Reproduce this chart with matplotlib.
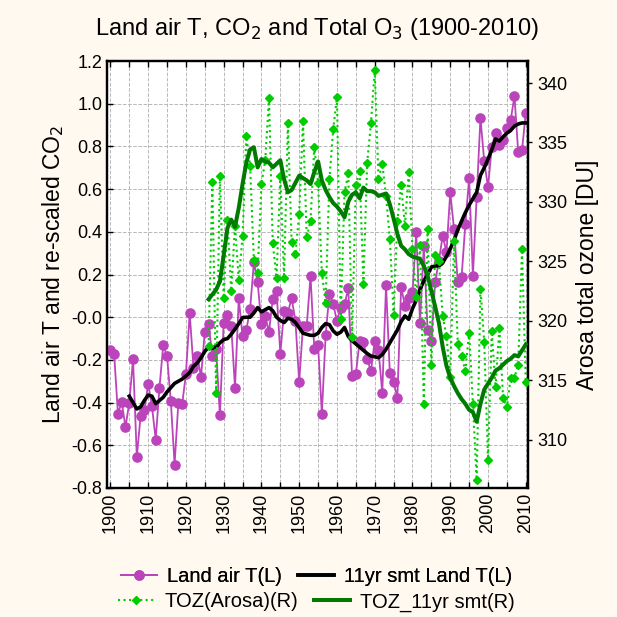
import matplotlib
matplotlib.use("Agg")
import matplotlib.pyplot as plt
from matplotlib.lines import Line2D
import numpy as np

# ---- data ----
t_years = np.arange(1900, 2011)
land_t = [
    -0.155, -0.174, -0.452, -0.397, -0.515, -0.40, -0.197, -0.654, -0.463, -0.437,   # 1900s
    -0.311, -0.416, -0.573, -0.330, -0.130, -0.182, -0.393, -0.690, -0.400, -0.408,  # 1910s
    -0.268, 0.019, -0.236, -0.18, -0.279, -0.069, -0.033, -0.18, -0.15, -0.46,       # 1920s
    -0.025, 0.009, -0.04, -0.33, 0.088, -0.09, -0.06, 0.038, 0.257, 0.163,           # 1930s
    -0.033, 0.006, -0.069, 0.085, 0.124, -0.171, 0.03, 0.022, 0.089, -0.017,         # 1940s
    -0.304, -0.04, -0.04, 0.194, -0.15, -0.13, -0.452, -0.085, 0.11, 0.06,           # 1950s
    -0.017, 0.045, 0.061, 0.135, -0.275, -0.268, -0.111, -0.116, -0.197, -0.252,     # 1960s
    -0.111, -0.153, -0.354, 0.15, -0.26, -0.304, -0.377, 0.142, 0.053, 0.088,        # 1970s
    0.116, 0.397, -0.025, 0.335, -0.06, -0.111, 0.163, 0.264, 0.382, 0.304,          # 1980s
    0.585, 0.413, 0.163, 0.186, 0.437, 0.651, 0.194, 0.562, 0.933, 0.731,            # 1990s
    0.609, 0.797, 0.864, 0.808, 0.828, 0.887, 0.922, 1.036, 0.773, 0.781,            # 2000s
    0.956,
]

smt_years = np.arange(1905, 2011)
land_t_smt = [
    -0.37, -0.40, -0.43, -0.42, -0.39,
    -0.365, -0.37, -0.405, -0.39, -0.375, -0.35, -0.33, -0.31, -0.30, -0.29,
    -0.275, -0.26, -0.23, -0.215, -0.19, -0.16, -0.14, -0.145, -0.14, -0.12,
    -0.105, -0.10, -0.08, -0.056, -0.03, -0.002, 0.0, 0.0, 0.02, 0.045,
    0.025, 0.035, 0.045, 0.03, 0.0, -0.015, -0.025, -0.005, -0.01, -0.025,
    -0.05, -0.075, -0.08, -0.085, -0.085, -0.075, -0.048, -0.03, -0.035, -0.064,
    -0.08, -0.07, -0.048, -0.09, -0.11, -0.125, -0.14, -0.155, -0.17, -0.182,
    -0.185, -0.19, -0.175, -0.15, -0.12, -0.09, -0.06, -0.02, 0.006, -0.01,
    0.04, 0.08, 0.13, 0.17, 0.20, 0.235, 0.24, 0.24, 0.255, 0.285,
    0.32, 0.36, 0.41, 0.45, 0.49, 0.525, 0.555, 0.585, 0.665, 0.70,
    0.74, 0.785, 0.835, 0.825, 0.845, 0.862, 0.875, 0.895, 0.905, 0.91,
    0.91,
]

toz_years = np.arange(1926, 2011)
toz = [
    317.9, 331.7, 313.9, 332.2,                                          # 1926-29
    321.9, 328.5, 322.5, 328.0, 323.4, 327.1, 335.5, 333.0, 325.1, 324.0,  # 1930s
    331.5, 333.5, 338.7, 326.5, 323.6, 332.2, 323.6, 336.6, 326.6, 325.6,  # 1940s
    329.0, 336.8, 327.0, 328.4, 334.6, 331.6, 324.0, 321.5, 331.9, 336.1,  # 1950s
    338.8, 320.1, 330.8, 332.4, 318.6, 331.4, 332.6, 323.1, 333.3, 336.6,  # 1960s
    341.1, 331.9, 333.2, 330.5, 326.9, 320.5, 328.4, 331.4, 328.0, 332.5,  # 1970s
    326.0, 322.0, 326.4, 313.0, 327.7, 316.3, 325.5, 325.0, 320.4, 318.7,  # 1980s
    315.3, 326.7, 318.0, 317.0, 315.8, 319.0, 313.0, 306.6, 322.7, 318.2,  # 1990s
    308.3, 319.1, 314.4, 319.4, 313.5, 312.7, 315.2, 315.2, 316.3, 326.0,  # 2000s
    314.8,
]
toz_smt = [
    321.8, 322.2, 322.6, 323.3,
    325.5, 327.8, 328.5, 327.9, 329.5, 331.5, 333.3, 334.4, 334.6, 332.9,
    333.6, 333.4, 333.3, 332.9, 333.2, 333.5, 331.9, 330.8, 331.0, 331.6,
    332.2, 332.0, 331.8, 331.5, 332.5, 333.4, 331.8, 331.0, 330.4, 329.9,
    329.6, 329.2, 328.7, 330.0, 330.6, 330.8, 330.3, 331.2, 330.9, 330.9,
    330.8, 330.5, 330.6, 330.7, 329.8, 328.6, 327.3, 326.3, 326.0, 325.6,
    325.4, 325.3, 325.2, 324.6, 323.8, 322.5, 321.2, 319.8, 317.8, 316.2,
    315.2, 314.5, 313.9, 313.4, 313.0, 312.5, 312.3, 311.5, 313.0, 314.2,
    314.7, 315.2, 315.8, 316.0, 316.3, 316.6, 316.8, 317.1, 317.0, 317.5,
    318.0,
]

PURPLE = "#bb44bb"
GREEN = "#00cc00"
DKGREEN = "#007a00"
BG = "#fff9ef"

plt.rcParams["font.family"] = ["Liberation Sans", "DejaVu Sans"]

fig = plt.figure(figsize=(6.17, 6.17), dpi=100, facecolor=BG)
ax = fig.add_axes([0.1734, 0.2091, 0.6824, 0.692])
ax2 = ax.twinx()

ax.plot(t_years, land_t, color=PURPLE, lw=1.3, marker="o", ms=6.6,
        mec=PURPLE, mfc=PURPLE, zorder=3)
ax.plot(smt_years, land_t_smt, color="black", lw=2.6, zorder=4)

ax2.plot(toz_years, toz, color=GREEN, lw=1.5, ls=":", marker="D", ms=4.5,
         mec=GREEN, mfc=GREEN, zorder=3)
ax2.plot(toz_years, toz_smt, color=DKGREEN, lw=2.9, zorder=4)

ax.set_xlim(1899.1, 2010.6)
ax.set_ylim(-0.8, 1.2)
ax2.set_ylim(305.92, 341.85)

ax.set_xticks(np.arange(1900, 2011, 10))
ax.set_xticks(np.arange(1900, 2011, 5), minor=True)
ax.set_yticks(np.arange(-0.8, 1.21, 0.2))
ax.set_yticklabels([f"{v:.1f}" for v in np.arange(-0.8, 1.21, 0.2)])
ax2.set_yticks(np.arange(310, 341, 5))

ax.tick_params(axis="x", which="both", direction="in", top=True, labelrotation=90,
               labelsize=13, length=4, width=1)
ax.tick_params(axis="y", direction="in", labelsize=13, length=4, width=1)
ax2.tick_params(axis="y", direction="out", labelsize=13, length=3, width=1)

ax.grid(True, which="both", axis="x", color="#b8b8b8", ls="--", lw=0.7)
ax.grid(True, axis="y", color="#b8b8b8", ls="--", lw=0.7)
ax.set_axisbelow(True)
for a in (ax, ax2):
    for s in a.spines.values():
        s.set_linewidth(1.6)

ax.set_ylabel("Land air T and re-scaled CO$_2$", fontsize=16.5, labelpad=4)
ax2.set_ylabel("Arosa total ozone [DU]", fontsize=16.5, labelpad=6)
fig.text(0.514, 0.953, "Land air T, CO$_2$ and Total O$_3$ (1900-2010)",
         ha="center", va="center", fontsize=17)

h1 = [Line2D([], [], color=PURPLE, lw=1.3, marker="o", ms=6.6),
      Line2D([], [], color="black", lw=2.6)]
h2 = [Line2D([], [], color=GREEN, lw=1.5, ls=":", marker="D", ms=4.5),
      Line2D([], [], color=DKGREEN, lw=2.9)]
leg_kw = dict(ncol=2, loc="center", frameon=False, fontsize=14.5,
              handlelength=1.8, columnspacing=0.8, handletextpad=0.5)
leg1 = fig.legend(h1, ["Land air T(L)", "11yr smt Land T(L)"],
                  bbox_to_anchor=(0.513, 1 - 577 / 617), **leg_kw)
leg2 = fig.legend(h2, ["TOZ(Arosa)(R)", "TOZ_11yr smt(R)"],
                  bbox_to_anchor=(0.513, 1 - 602 / 617), **leg_kw)
fig.add_artist(leg1)

fig.savefig("out.png", dpi=100, facecolor=BG)
